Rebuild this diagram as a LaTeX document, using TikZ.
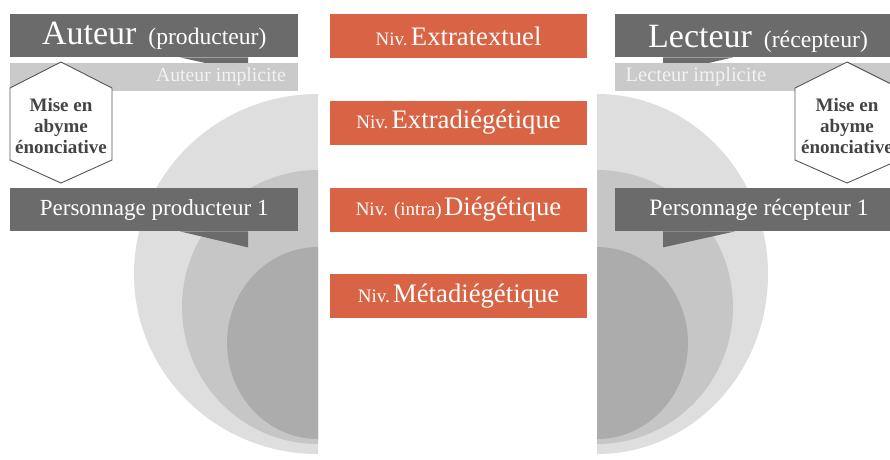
\documentclass[tikz,border=0pt]{standalone}
\usepackage{fontspec}
\setmainfont{Liberation Serif}
\begin{document}
\begin{tikzpicture}[x=1pt,y=-1pt,
  dkbar/.style={fill=barDark, draw=none, inner sep=0pt, text=white, minimum height=43pt},
  ltbar/.style={fill=barLight, draw=none, inner sep=0pt, minimum height=28pt},
  orbox/.style={fill=orangeBox, draw=none, inner sep=0pt, text=white, minimum width=257pt, minimum height=44pt},
  hexline/.style={draw=hexGray, line width=0.9pt, fill=white, line join=miter},
  hextext/.style={text=hexText, align=center, font=\bfseries\fontsize{19}{21}\selectfont},
  c1/.style={fill=circOuter},
  c2/.style={fill=circMid},
  c3/.style={fill=circInner}]
\definecolor{barDark}{RGB}{107,107,107}
\definecolor{barLight}{RGB}{202,202,202}
\definecolor{orangeBox}{RGB}{217,99,69}
\definecolor{hexGray}{RGB}{85,85,85}
\definecolor{hexText}{RGB}{68,68,68}
\definecolor{circOuter}{RGB}{222,222,222}
\definecolor{circMid}{RGB}{198,198,198}
\definecolor{circInner}{RGB}{172,172,172}
\definecolor{implText}{RGB}{242,242,242}
\newcommand{\nivsmall}[1]{{\fontsize{19}{19}\selectfont #1}}
\newcommand{\nivbig}[1]{{\fontsize{26.7}{27}\selectfont #1}}
\useasboundingbox[fill=white] (0,0) rectangle (890,459);

% left half circles
\begin{scope}
  \clip (0,0) rectangle (318,459);
  \fill[c1] (318,274) ellipse[x radius=184, y radius=180];
  \fill[c2] (318,307) ellipse[x radius=136, y radius=137];
  \fill[c3] (318,343) ellipse[x radius=91, y radius=96];
\end{scope}
% right half circles
\begin{scope}
  \clip (597,0) rectangle (890,459);
  \fill[c1] (597,274) ellipse[x radius=171, y radius=180];
  \fill[c2] (597,307) ellipse[x radius=136, y radius=137];
  \fill[c3] (597,343) ellipse[x radius=91, y radius=96];
\end{scope}

% left column
\node[dkbar, minimum width=288pt, anchor=north west] (auteur) at (10,14)
  {{\fontsize{34}{34}\selectfont Auteur}\hspace{12pt}{\fontsize{23.6}{24}\selectfont (producteur)}};
\fill[barDark] ([xshift=170pt]auteur.south west) -- ([xshift=238pt,yshift=-15pt]auteur.south west) -- ([xshift=238pt]auteur.south west) -- cycle;
\node[ltbar, minimum width=288pt, anchor=north west] (autimpl) at (10,63) {};
\node[text=implText, font=\fontsize{19.7}{20}\selectfont, inner sep=0pt] (autimpltxt) at (221,77) {Auteur implicite};
\coordinate (hl1) at (61,62); \coordinate (hl2) at (10,88); \coordinate (hl3) at (10,160);
\coordinate (hl4) at (61,183); \coordinate (hl5) at (112,160); \coordinate (hl6) at (112,88);
\path[hexline] (hl1) -- (hl2) -- (hl3) -- (hl4) -- (hl5) -- (hl6) -- cycle;
\node[hextext] (hexleft) at (61,126) {Mise en\\abyme\\énonciative};
\node[dkbar, minimum width=288pt, anchor=north west, font=\fontsize{23}{24}\selectfont] (persprod) at (10,188) {Personnage producteur 1};
\fill[barDark] ([xshift=170pt]persprod.south west) -- ([xshift=238pt,yshift=-16pt]persprod.south west) -- ([xshift=238pt]persprod.south west) -- cycle;

% right column
\node[dkbar, minimum width=275pt, anchor=north west] (lecteur) at (615,14) {};
\node[text=white, inner sep=0pt, anchor=base] (lecteurtxt) at (758,47)
  {{\fontsize{34}{34}\selectfont Lecteur}\hspace{12pt}{\fontsize{23.7}{24}\selectfont (récepteur)}};
\fill[barDark] ([xshift=48pt]lecteur.south west) -- ([xshift=48pt,yshift=-16pt]lecteur.south west) -- ([xshift=118pt]lecteur.south west) -- cycle;
\node[ltbar, minimum width=275pt, anchor=north west] (lectimpl) at (615,63) {};
\node[text=implText, font=\fontsize{20.5}{21}\selectfont, inner sep=0pt] (lectimpltxt) at (696,77) {Lecteur implicite};
\coordinate (hr1) at (847,62); \coordinate (hr2) at (795,88); \coordinate (hr3) at (795,160);
\coordinate (hr4) at (847,183); \coordinate (hr5) at (899,160); \coordinate (hr6) at (899,88);
\path[hexline] (hr1) -- (hr2) -- (hr3) -- (hr4) -- (hr5) -- (hr6) -- cycle;
\node[hextext] (hexright) at (847,126) {Mise en\\abyme\\énonciative};
\node[dkbar, minimum width=275pt, anchor=north west] (persrec) at (615,188) {};
\node[text=white, inner sep=0pt, font=\fontsize{23.5}{24}\selectfont] (persrectxt) at (759,210) {Personnage récepteur 1};
\fill[barDark] ([xshift=48pt]persrec.south west) -- ([xshift=48pt,yshift=-16pt]persrec.south west) -- ([xshift=120pt]persrec.south west) -- cycle;

% central level boxes
\node[orbox] (n1) at (458.5,36) {\nivsmall{Niv.} \nivbig{Extratextuel}};
\node[orbox] (n2) at (458.5,122.5) {\nivsmall{Niv.} \nivbig{Extradiégétique}};
\node[orbox] (n3) at (458.5,209.5) {\nivsmall{Niv. (intra)} \nivbig{Diégétique}};
\node[orbox] (n4) at (458.5,296) {\nivsmall{Niv.} \nivbig{Métadiégétique}};
\end{tikzpicture}
\end{document}
